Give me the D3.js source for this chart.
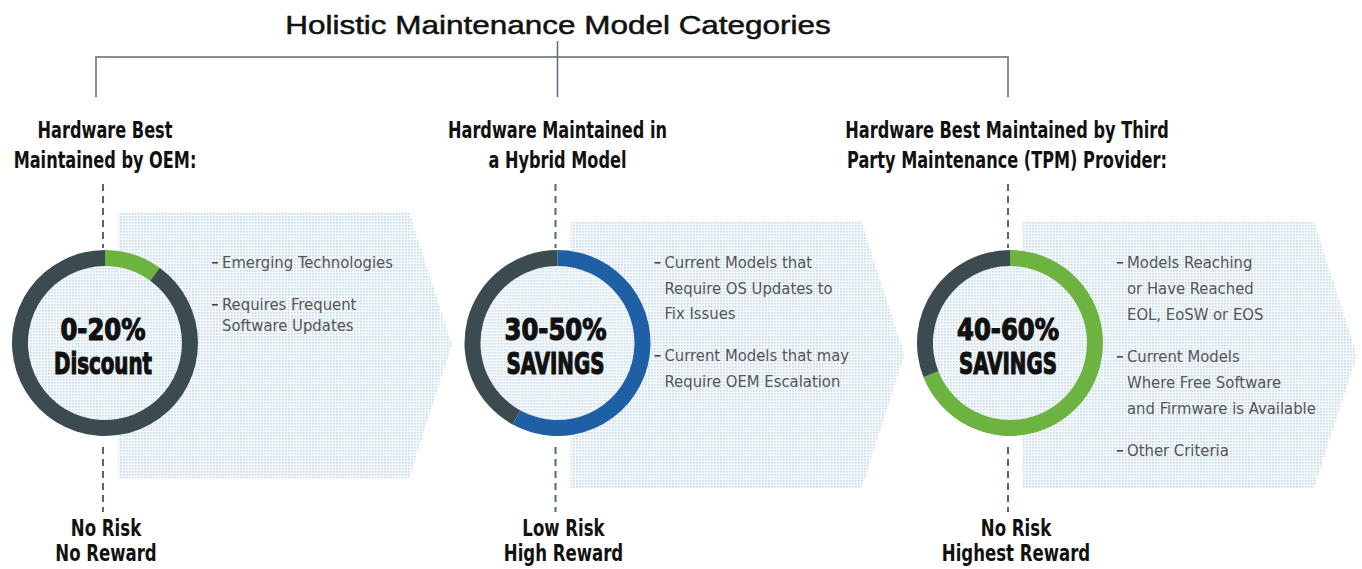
<!DOCTYPE html>
<html>
<head>
<meta charset="utf-8">
<script src="https://cdn.jsdelivr.net/npm/d3@7"></script>
<style>
body { margin: 0; background: #fff; }
svg { display: block; }
</style>
</head>
<body>
<div id="chart"></div>
<script>
var title = "Holistic Maintenance Model Categories";
var categories = ["OEM", "Hybrid", "TPM"];
var headings = [
	["Hardware Best", "Maintained by OEM:"],
	["Hardware Maintained in", "a Hybrid Model"],
	["Hardware Best Maintained by Third", "Party Maintenance (TPM) Provider:"]
];
var rangeLabels = ["0-20%", "30-50%", "40-60%"];
var rangeWords = ["Discount", "SAVINGS", "SAVINGS"];
var shares = [0.10, 0.58, 0.69];
var shareColors = ["#6db33f", "#1f5fa6", "#6db33f"];
var bullets = [
	[["Emerging Technologies"], ["Requires Frequent", "Software Updates"]],
	[["Current Models that", "Require OS Updates to", "Fix Issues"], ["Current Models that may", "Require OEM Escalation"]],
	[["Models Reaching", "or Have Reached", "EOL, EoSW or EOS"], ["Current Models", "Where Free Software", "and Firmware is Available"], ["Other Criteria"]]
];
var riskLabels = [["No Risk", "No Reward"], ["Low Risk", "High Reward"], ["No Risk", "Highest Reward"]];

var width = 1362, height = 569;
var cy = 343;
var condensed = "'Liberation Sans Narrow', 'DejaVu Sans Condensed', 'Roboto Condensed', sans-serif";

// squeeze (or stretch) text horizontally, the installed fonts are wider than the original ones
function squeeze(sel, k) {
	sel.each(function() {
		this.setAttribute("textLength", this.getComputedTextLength() * k);
		this.setAttribute("lengthAdjust", "spacingAndGlyphs");
	});
}

var svg = d3.select("#chart").append("svg")
	.attr("width", width)
	.attr("height", height);

// dotted fill used by the arrows and donut centres
var pat = svg.append("defs").append("pattern")
	.attr("id", "dots")
	.attr("width", 3).attr("height", 3)
	.attr("patternUnits", "userSpaceOnUse");
pat.append("rect").attr("width", 3).attr("height", 3).attr("fill", "#f5fbfe");
pat.append("rect").attr("width", 1.6).attr("height", 1.6).attr("fill", "#c9d9e2");

var x = d3.scalePoint().domain(categories).range([105, 1010]);

// title + bracket
svg.append("text")
	.attr("x", 558).attr("y", 34)
	.attr("text-anchor", "middle")
	.attr("font-family", "'Liberation Sans', Arial, sans-serif")
	.attr("font-size", 26)
	.attr("fill", "#111")
	.attr("stroke", "#111").attr("stroke-width", 0.5)
	.text(title)
	.call(squeeze, 1.21);

var bx0 = x(categories[0]) - 9, bx1 = x(categories[2]) - 2;
svg.append("path")
	.attr("d", "M" + bx0 + ",97V57H" + bx1 + "V97M" + x(categories[1]) + ",41V97")
	.attr("fill", "none")
	.attr("stroke", "#5b6b70")
	.attr("stroke-width", 1.5);

// arrows
var arrowTop = [212, 222, 222];
var arrowH = 266;
svg.selectAll(".arrow").data(categories).enter().append("path")
	.attr("class", "arrow")
	.attr("fill", "url(#dots)")
	.attr("d", function(d, i) {
		var cx = x(d), t = arrowTop[i], b = t + arrowH;
		var l = cx + 13, s = cx + 304, tip = cx + 347;
		return "M" + l + "," + t + "H" + s + "L" + tip + "," + (t + arrowH / 2) + "L" + s + "," + b + "H" + l + "Z";
	});

// dashed connectors
var groups = svg.selectAll(".cat").data(categories).enter().append("g")
	.attr("class", "cat")
	.attr("transform", function(d) { return "translate(" + x(d) + ",0)"; });

groups.append("path")
	.attr("d", "M-2,184V248M-2,447V512")
	.attr("stroke", "#4f6a72")
	.attr("stroke-width", 2)
	.attr("stroke-dasharray", "7,5");

// headings and risk labels
groups.each(function(d, i) {
	var g = d3.select(this);
	g.selectAll(".head").data(headings[i]).enter().append("text")
		.attr("class", "head")
		.attr("x", i == 2 ? -3 : 0)
		.attr("y", function(t, j) { return 138 + j * 30; })
		.attr("text-anchor", "middle")
		.attr("font-family", condensed)
		.attr("font-weight", "bold")
		.attr("font-size", 23)
		.attr("fill", "#111")
		.text(function(t) { return t; })
		.call(squeeze, 0.78);

	g.selectAll(".risk").data(riskLabels[i]).enter().append("text")
		.attr("class", "risk")
		.attr("x", i == 0 ? 1 : 6)
		.attr("y", function(t, j) { return 536 + j * 25; })
		.attr("text-anchor", "middle")
		.attr("font-family", condensed)
		.attr("font-weight", "bold")
		.attr("font-size", 23)
		.attr("fill", "#111")
		.text(function(t) { return t; })
		.call(squeeze, 0.8);
});

// donuts
var pie = d3.pie().sort(null).value(function(d) { return d; });
var arc = d3.arc().innerRadius(77).outerRadius(93);

groups.each(function(d, i) {
	var g = d3.select(this).append("g").attr("transform", "translate(0," + cy + ")");
	g.append("circle").attr("r", 77).attr("fill", "url(#dots)");
	g.selectAll("path").data(pie([shares[i], 1 - shares[i]])).enter().append("path")
		.attr("d", arc)
		.attr("fill", function(p, j) { return j == 0 ? shareColors[i] : "#3c4b50"; });
	g.append("text")
		.attr("x", -2).attr("y", -3)
		.attr("text-anchor", "middle")
		.attr("font-family", condensed)
		.attr("font-weight", "bold")
		.attr("font-size", 31)
		.attr("fill", "#111")
		.attr("stroke", "#111").attr("stroke-width", 1.2)
		.text(rangeLabels[i])
		.call(squeeze, 0.87);
	g.append("text")
		.attr("x", -2).attr("y", 31)
		.attr("text-anchor", "middle")
		.attr("font-family", condensed)
		.attr("font-weight", "bold")
		.attr("font-size", 31)
		.attr("fill", "#111")
		.attr("stroke", "#111").attr("stroke-width", 1.2)
		.text(rangeWords[i])
		.call(squeeze, 0.71);
});

// bullet lists
var textX = [117, 107, 117];
var lineH = [21, 25.5, 26];
groups.each(function(d, i) {
	var g = d3.select(this);
	var y = 268;
	bullets[i].forEach(function(lines) {
		g.append("rect")
			.attr("x", textX[i] - 10).attr("y", y - 6)
			.attr("width", 6).attr("height", 1.6)
			.attr("fill", "#444");
		lines.forEach(function(t) {
			g.append("text")
				.attr("x", textX[i]).attr("y", y)
				.attr("font-family", condensed)
				.attr("font-size", 16.5)
				.attr("fill", "#555")
				.text(t);
			y += lineH[i];
		});
		y += 42 - lineH[i];
	});
});
</script>
</body>
</html>
